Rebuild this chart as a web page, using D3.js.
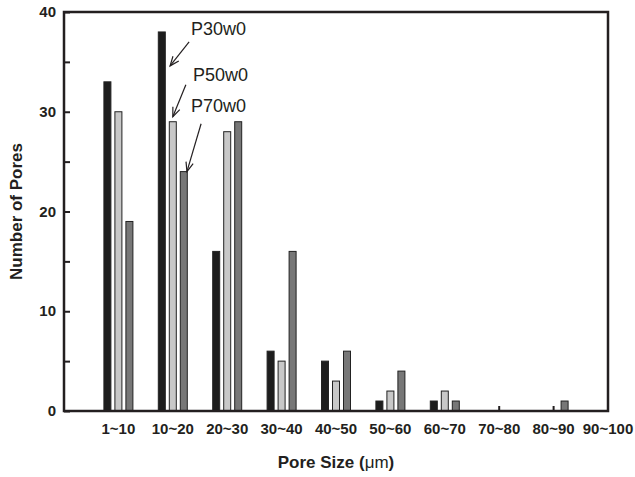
<!DOCTYPE html>
<html>
<head>
<meta charset="utf-8">
<script src="https://cdn.jsdelivr.net/npm/d3@7"></script>
<style>
  body { margin: 0; background: #fff; }
  text { font-family: Arial, 'Liberation Sans', sans-serif; }
</style>
</head>
<body>
<script>
const categories = ['1~10', '10~20', '20~30', '30~40', '40~50', '50~60', '60~70', '70~80', '80~90', '90~100'];
const seriesNames = ['P30w0', 'P50w0', 'P70w0'];
const p30w0 = [33, 38, 16, 6, 5, 1, 1, 0, 0, 0];
const p50w0 = [30, 29, 28, 5, 3, 2, 2, 0, 0, 0];
const p70w0 = [19, 24, 29, 16, 6, 4, 1, 0, 1, 0];
const yTicks = [0, 10, 20, 30, 40];
const yMinorTicks = [5, 15, 25, 35];

// annotation positions in data units (category index, count)
const annotations = [
  { label: 'P30w0', tx: 2.335, ty: 37.7, x1: 2.30, y1: 37.0, x2: 1.95, y2: 34.6 },
  { label: 'P50w0', tx: 2.37, ty: 33.1, x1: 2.24, y1: 32.7, x2: 2.0, y2: 29.5 },
  { label: 'P70w0', tx: 2.335, ty: 30.0, x1: 2.52, y1: 28.8, x2: 2.26, y2: 24.0 },
];

const colors = ['#1d1d1d', '#c8c8c8', '#777777'];
const axisColor = '#231f20';

const width = 635;
const height = 477;
const margin = { left: 64, right: 27, top: 12, bottom: 66 };

const svg = d3
  .select('body')
  .append('svg')
  .attr('width', width)
  .attr('height', height);

const x = d3
  .scaleLinear()
  .domain([0, categories.length])
  .range([margin.left, width - margin.right]);

const y = d3
  .scaleLinear()
  .domain([0, 40])
  .range([height - margin.bottom, margin.top]);

const offset = d3.scalePoint().domain(seriesNames).range([-11, 11]);
const barWidth = 7;

// x ticks (inward, beneath bars)
svg
  .append('g')
  .selectAll('line')
  .data(categories)
  .enter()
  .append('line')
  .attr('x1', (d, i) => x(i + 1))
  .attr('x2', (d, i) => x(i + 1))
  .attr('y1', y(0))
  .attr('y2', y(0) - 5)
  .attr('stroke', axisColor)
  .attr('stroke-width', 2);

// bars
const rows = [];
[p30w0, p50w0, p70w0].forEach((vals, s) => {
  vals.forEach((v, i) => {
    if (v > 0) rows.push({ s: seriesNames[s], si: s, i, v });
  });
});

svg
  .append('g')
  .selectAll('rect')
  .data(rows)
  .enter()
  .append('rect')
  .attr('x', (d) => x(d.i + 1) + offset(d.s) - barWidth / 2)
  .attr('y', (d) => y(d.v))
  .attr('width', barWidth)
  .attr('height', (d) => y(0) - y(d.v))
  .attr('fill', (d) => colors[d.si])
  .attr('stroke', '#222')
  .attr('stroke-width', 1);

// frame
svg
  .append('rect')
  .attr('x', x(0))
  .attr('y', y(40))
  .attr('width', x(categories.length) - x(0))
  .attr('height', y(0) - y(40))
  .attr('fill', 'none')
  .attr('stroke', axisColor)
  .attr('stroke-width', 2.5);

// y ticks (inward)
const yAxis = d3
  .axisRight(y)
  .tickValues(yTicks)
  .tickSize(6)
  .tickFormat('');
svg
  .append('g')
  .attr('transform', `translate(${x(0)},0)`)
  .call(yAxis)
  .call((g) => g.select('.domain').remove())
  .call((g) => g.selectAll('line').attr('stroke', axisColor).attr('stroke-width', 2));

svg
  .append('g')
  .attr('transform', `translate(${x(0)},0)`)
  .call(d3.axisRight(y).tickValues(yMinorTicks).tickSize(6).tickFormat(''))
  .call((g) => g.select('.domain').remove())
  .call((g) => g.selectAll('line').attr('stroke', axisColor).attr('stroke-width', 2));

// y tick labels
svg
  .append('g')
  .selectAll('text')
  .data(yTicks)
  .enter()
  .append('text')
  .attr('x', x(0) - 8)
  .attr('y', (d) => y(d) + 5)
  .attr('text-anchor', 'end')
  .style('font-size', '15px')
  .style('font-weight', 'bold')
  .attr('fill', axisColor)
  .text((d) => d);

// x tick labels
svg
  .append('g')
  .selectAll('text')
  .data(categories)
  .enter()
  .append('text')
  .attr('x', (d, i) => x(i + 1))
  .attr('y', y(0) + 23)
  .attr('text-anchor', 'middle')
  .style('font-size', '15px')
  .style('font-weight', 'bold')
  .attr('fill', axisColor)
  .text((d) => d);

// axis titles
const xTitle = svg
  .append('text')
  .attr('x', (x(0) + x(categories.length)) / 2)
  .attr('y', 468)
  .attr('text-anchor', 'middle')
  .style('font-size', '17px')
  .style('font-weight', 'bold')
  .attr('fill', axisColor);
xTitle.append('tspan').text('Pore Size (');
xTitle.append('tspan').style('font-weight', 'normal').text('\u03bcm');
xTitle.append('tspan').text(')');

svg
  .append('text')
  .attr('transform', `translate(22,${(y(0) + y(40)) / 2})rotate(-90)`)
  .attr('text-anchor', 'middle')
  .style('font-size', '17px')
  .style('font-weight', 'bold')
  .attr('fill', axisColor)
  .text('Number of Pores');

// annotations
const ann = svg.append('g');
ann
  .selectAll('text')
  .data(annotations)
  .enter()
  .append('text')
  .attr('x', (d) => x(d.tx))
  .attr('y', (d) => y(d.ty))
  .style('font-size', '18px')
  .attr('fill', axisColor)
  .text((d) => d.label);

ann
  .selectAll('g.arrow')
  .data(annotations)
  .enter()
  .append('g')
  .attr('class', 'arrow')
  .each(function (d) {
    const g = d3.select(this);
    const ax1 = x(d.x1), ay1 = y(d.y1), ax2 = x(d.x2), ay2 = y(d.y2);
    g.append('line')
      .attr('x1', ax1).attr('y1', ay1)
      .attr('x2', ax2).attr('y2', ay2)
      .attr('stroke', axisColor)
      .attr('stroke-width', 1.2);
    const ang = Math.atan2(ay2 - ay1, ax2 - ax1);
    const len = 10;
    const spread = 0.38;
    const p = [
      [ax2 - len * Math.cos(ang - spread), ay2 - len * Math.sin(ang - spread)],
      [ax2, ay2],
      [ax2 - len * Math.cos(ang + spread), ay2 - len * Math.sin(ang + spread)],
    ];
    g.append('path')
      .attr('d', d3.line()(p))
      .attr('fill', 'none')
      .attr('stroke', axisColor)
      .attr('stroke-width', 1.2);
  });
</script>
</body>
</html>
